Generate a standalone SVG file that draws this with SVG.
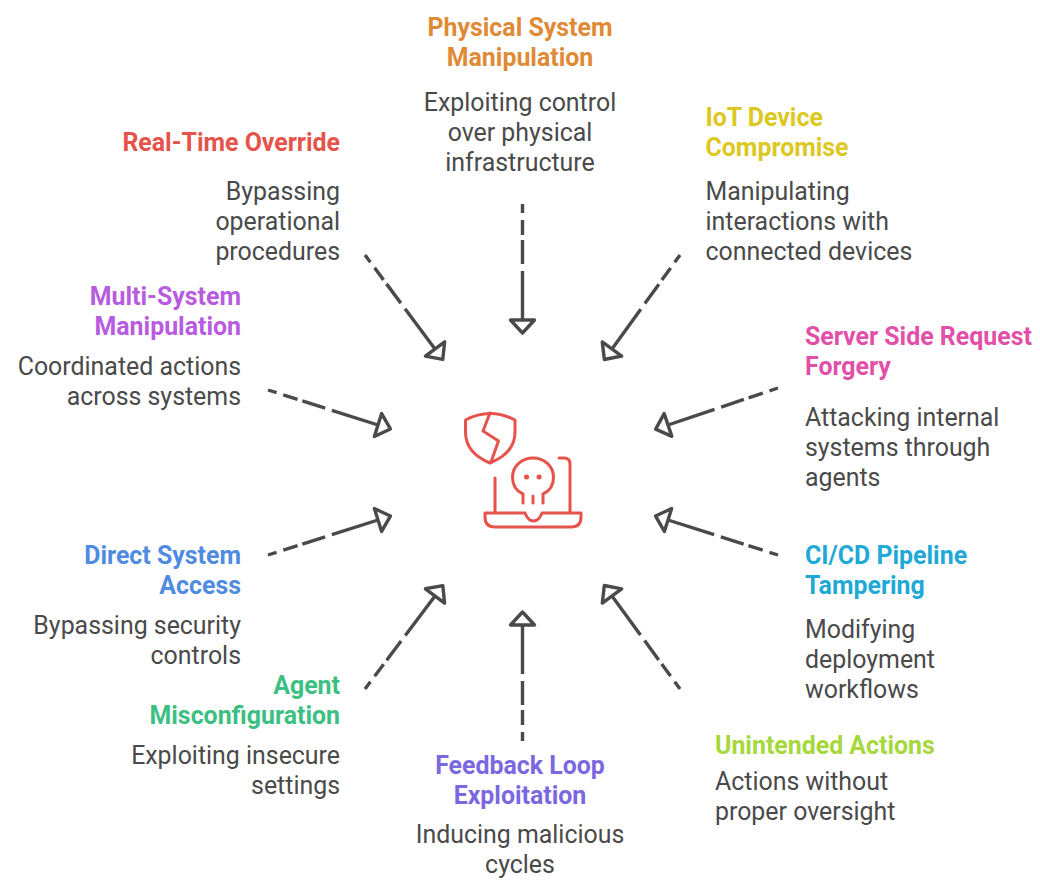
<svg xmlns="http://www.w3.org/2000/svg" width="1040" height="881" viewBox="0 0 1040 881">
<style>
text{font-family:Roboto,"Liberation Sans",sans-serif;font-size:24.900px}
.t{font-weight:700}
.b{fill:#4a4a4a}
.e{text-anchor:end}
.m{text-anchor:middle}
.c{fill:none;stroke:#4a4a4a;stroke-width:3.4;stroke-dasharray:9 7 15 5 24 7 400;marker-end:url(#a)}
.i{fill:none;stroke:#e5534b;stroke-width:3;stroke-linecap:round;stroke-linejoin:round}
</style>
<defs><marker id="a" markerUnits="userSpaceOnUse" markerWidth="34" markerHeight="34" refX="4" refY="17" orient="auto" viewBox="0 0 34 34"><path d="M4 5L17 17L4 29Z" fill="#fff" stroke="#4a4a4a" stroke-width="3.4" stroke-linejoin="round"/></marker></defs>
<rect width="1040" height="881" fill="#fff"/>
<g id="connectors">
<path class="c" d="M522.500 204V320"/>
<path class="c" d="M365 255L435 349"/>
<path class="c" d="M680 255L612 349"/>
<path class="c" d="M268 390L378 425"/>
<path class="c" d="M778 388L668 425"/>
<path class="c" d="M268 555L378 520"/>
<path class="c" d="M778 555L668 520"/>
<path class="c" d="M365 689L435 596"/>
<path class="c" d="M680 689L612 596"/>
<path class="c" d="M522.500 741V625"/>
</g>
<g id="center-icon" class="i">
<path d="M465.500 420Q490 407 515 420V432Q515 453 490 463Q465.500 453 465.500 432Z"/>
<path d="M490 413L483 431L498.500 441L491 462"/>
<path d="M495 478V512M559 458H564Q570 458 570 464V512"/>
<path d="M485 513H525Q528 521 533.500 521Q539 521 542 513H581V517Q581 527 571 527H495Q485 527 485 517Z"/>
<path d="M523 503V494C516 491 512.500 485 512.500 477C512.500 466 522 458 533 458C544 458 553.500 466 553.500 477C553.500 485 550 491 543 494V503M533 496V503"/>
<path d="M526.500 477h.1M539 477h.1" stroke-width="5"/>
</g>
<g id="physical"><text class="t m" x="520" y="36" fill="#e08a36">Physical System</text><text class="t m" x="520" y="66" fill="#e08a36">Manipulation</text><text class="b m" x="520" y="111">Exploiting control</text><text class="b m" x="520" y="141">over physical</text><text class="b m" x="520" y="171">infrastructure</text></g>
<g id="iot"><text class="t" x="705.500" y="126" fill="#dcc81f">IoT Device</text><text class="t" x="705.500" y="156" fill="#dcc81f">Compromise</text><text class="b" x="705.500" y="200">Manipulating</text><text class="b" x="705.500" y="230">interactions with</text><text class="b" x="705.500" y="260">connected devices</text></g>
<g id="realtime"><text class="t e" x="340" y="151" fill="#e5534b">Real-Time Override</text><text class="b e" x="340" y="200">Bypassing</text><text class="b e" x="340" y="230">operational</text><text class="b e" x="340" y="260">procedures</text></g>
<g id="multi"><text class="t e" x="241" y="305" fill="#b75ce0">Multi-System</text><text class="t e" x="241" y="335" fill="#b75ce0">Manipulation</text><text class="b e" x="241" y="375">Coordinated actions</text><text class="b e" x="241" y="405">across systems</text></g>
<g id="ssrf"><text class="t" x="805" y="345" fill="#e24fa8">Server Side Request</text><text class="t" x="805" y="375" fill="#e24fa8">Forgery</text><text class="b" x="805" y="426">Attacking internal</text><text class="b" x="805" y="456">systems through</text><text class="b" x="805" y="486">agents</text></g>
<g id="direct"><text class="t e" x="241" y="564" fill="#4f8be0">Direct System</text><text class="t e" x="241" y="594" fill="#4f8be0">Access</text><text class="b e" x="241" y="634">Bypassing security</text><text class="b e" x="241" y="664">controls</text></g>
<g id="cicd"><text class="t" x="805" y="564" fill="#1fa9d6">CI/CD Pipeline</text><text class="t" x="805" y="594" fill="#1fa9d6">Tampering</text><text class="b" x="805" y="638">Modifying</text><text class="b" x="805" y="668">deployment</text><text class="b" x="805" y="698">workflows</text></g>
<g id="agent"><text class="t e" x="340" y="694" fill="#3cbf82">Agent</text><text class="t e" x="340" y="724" fill="#3cbf82">Misconfiguration</text><text class="b e" x="340" y="764">Exploiting insecure</text><text class="b e" x="340" y="794">settings</text></g>
<g id="unintended"><text class="t" x="715" y="754" fill="#a6d83c">Unintended Actions</text><text class="b" x="715" y="790">Actions without</text><text class="b" x="715" y="820">proper oversight</text></g>
<g id="feedback"><text class="t m" x="520" y="774" fill="#7b68e0">Feedback Loop</text><text class="t m" x="520" y="804" fill="#7b68e0">Exploitation</text><text class="b m" x="520" y="843">Inducing malicious</text><text class="b m" x="520" y="873">cycles</text></g>
</svg>
